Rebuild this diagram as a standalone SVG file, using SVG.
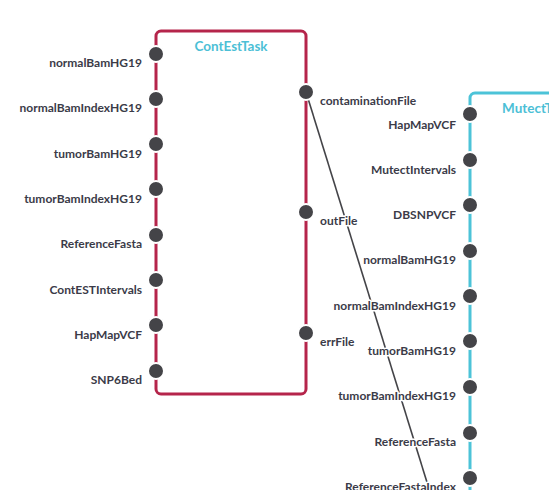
<svg xmlns="http://www.w3.org/2000/svg" width="549" height="490" viewBox="0 0 549 490">
<style>
.box{fill:none;stroke-width:3}
.c1{stroke:#b5254b}
.c2{stroke:#4cc3d8}
.port{fill:#444448;stroke:#fff;stroke-width:2}
.lbl{font-family:Lato,"Liberation Sans",sans-serif;font-weight:700;font-size:12px;fill:#3b3b48;stroke:#fff;stroke-width:3;paint-order:stroke;stroke-linejoin:round}
.in{text-anchor:end}
.title{font-family:Lato,"Liberation Sans",sans-serif;font-weight:700;font-size:13.5px;fill:#4cbfd6;text-anchor:middle}
.edge{stroke:#444448;stroke-width:1.6;fill:none}
</style>
<rect width="549" height="490" fill="#fff"/>
<g id="connectors">
<path class="edge" d="M306,92 L470,621"/>
</g>
<g id="ContEstTask">
<rect class="box c1" x="156" y="31" width="150" height="363" rx="5"/>
<text class="title" x="231" y="51">ContEstTask</text>
<circle class="port" cx="156" cy="54" r="8"/>
<circle class="port" cx="156" cy="99" r="8"/>
<circle class="port" cx="156" cy="144" r="8"/>
<circle class="port" cx="156" cy="189" r="8"/>
<circle class="port" cx="156" cy="235" r="8"/>
<circle class="port" cx="156" cy="280" r="8"/>
<circle class="port" cx="156" cy="325" r="8"/>
<circle class="port" cx="156" cy="371" r="8"/>
<text class="lbl in" x="142" y="67">normalBamHG19</text>
<text class="lbl in" x="142" y="112">normalBamIndexHG19</text>
<text class="lbl in" x="142" y="158">tumorBamHG19</text>
<text class="lbl in" x="142" y="203">tumorBamIndexHG19</text>
<text class="lbl in" x="142" y="248">ReferenceFasta</text>
<text class="lbl in" x="142" y="294">ContESTIntervals</text>
<text class="lbl in" x="142" y="339">HapMapVCF</text>
<text class="lbl in" x="142" y="384">SNP6Bed</text>
<circle class="port" cx="306" cy="92" r="8"/>
<circle class="port" cx="306" cy="212" r="8"/>
<circle class="port" cx="306" cy="333" r="8"/>
<text class="lbl" x="320" y="105">contaminationFile</text>
<text class="lbl" x="320" y="225">outFile</text>
<text class="lbl" x="320" y="346">errFile</text>
</g>
<g id="MutectTask">
<rect class="box c2" x="470" y="93" width="150" height="500" rx="5"/>
<text class="title" x="502" y="113" style="text-anchor:start">MutectTask</text>
<circle class="port" cx="470" cy="114" r="8"/>
<circle class="port" cx="470" cy="160" r="8"/>
<circle class="port" cx="470" cy="205" r="8"/>
<circle class="port" cx="470" cy="251" r="8"/>
<circle class="port" cx="470" cy="296" r="8"/>
<circle class="port" cx="470" cy="341" r="8"/>
<circle class="port" cx="470" cy="387" r="8"/>
<circle class="port" cx="470" cy="433" r="8"/>
<circle class="port" cx="470" cy="478" r="8"/>
<text class="lbl in" x="456" y="129">HapMapVCF</text>
<text class="lbl in" x="456" y="174">MutectIntervals</text>
<text class="lbl in" x="456" y="219">DBSNPVCF</text>
<text class="lbl in" x="456" y="264">normalBamHG19</text>
<text class="lbl in" x="456" y="310">normalBamIndexHG19</text>
<text class="lbl in" x="456" y="355">tumorBamHG19</text>
<text class="lbl in" x="456" y="400">tumorBamIndexHG19</text>
<text class="lbl in" x="456" y="446">ReferenceFasta</text>
<text class="lbl in" x="456" y="491">ReferenceFastaIndex</text>
</g>
</svg>
